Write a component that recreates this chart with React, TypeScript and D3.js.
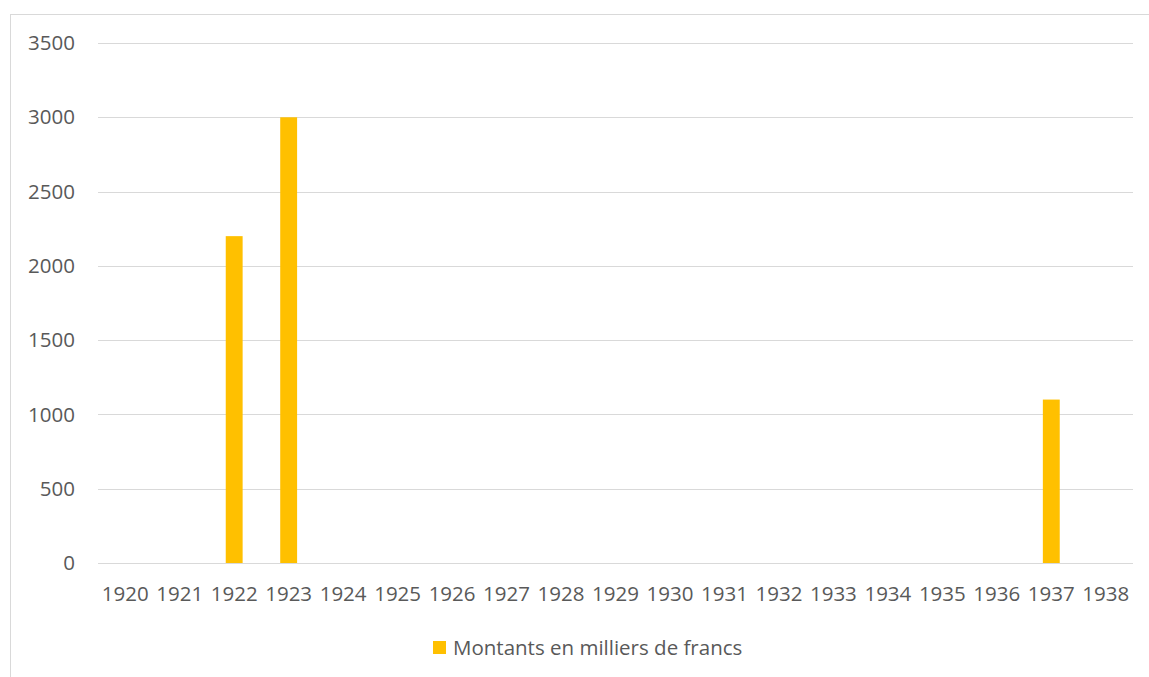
import React from "react";
import * as d3 from "d3";

const years = ["1920","1921","1922","1923","1924","1925","1926","1927","1928","1929","1930","1931","1932","1933","1934","1935","1936","1937","1938"];
const amounts = [0,0,2200,3000,0,0,0,0,0,0,0,0,0,0,0,0,0,1100,0];
const yTicks = [0,500,1000,1500,2000,2500,3000,3500];
const seriesName = "Montants en milliers de francs";

const W = 1149, H = 677;
const left = 98, right = 1133, top = 43, bottom = 563;
const font = "'Open Sans', sans-serif";
const textColor = "#595959";
const barColor = "#FFC000";
const fs = 20.5;

export default function App() {
  const x = d3.scaleBand<string>().domain(years).range([left, right]).paddingInner(0.69).paddingOuter(0.345);
  const y = d3.scaleLinear().domain([0, 3500]).range([bottom, top]);
  return (
    <svg width={W} height={H} style={{ position: "absolute", left: 0, top: 0, background: "#fff" }}>
      <rect x={10.5} y={14.5} width={1200} height={700} fill="#fff" stroke="#d9d9d9" strokeWidth={1} />
      {yTicks.map(t => (
        <g key={t}>
          <line x1={left} x2={right} y1={Math.round(y(t)) + 0.5} y2={Math.round(y(t)) + 0.5} stroke="#d9d9d9" strokeWidth={1} />
          <text x={75} y={y(t)} dy="0.35em" textAnchor="end" fontFamily={font} fontSize={fs} fill={textColor}>{t}</text>
        </g>
      ))}
      {years.map((yr, i) => (
        <g key={yr}>
          {amounts[i] > 0 && (
            <rect x={x(yr)} y={y(amounts[i])} width={x.bandwidth()} height={y(0) - y(amounts[i])} fill={barColor} />
          )}
          <text x={(x(yr) as number) + x.bandwidth() / 2} y={594} dy="0.35em" textAnchor="middle" fontFamily={font} fontSize={fs} fill={textColor}>{yr}</text>
        </g>
      ))}
      <rect x={433} y={641} width={13} height={13} fill={barColor} />
      <text x={453} y={647.5} dy="0.35em" fontFamily={font} fontSize={fs} fill={textColor}>{seriesName}</text>
    </svg>
  );
}
